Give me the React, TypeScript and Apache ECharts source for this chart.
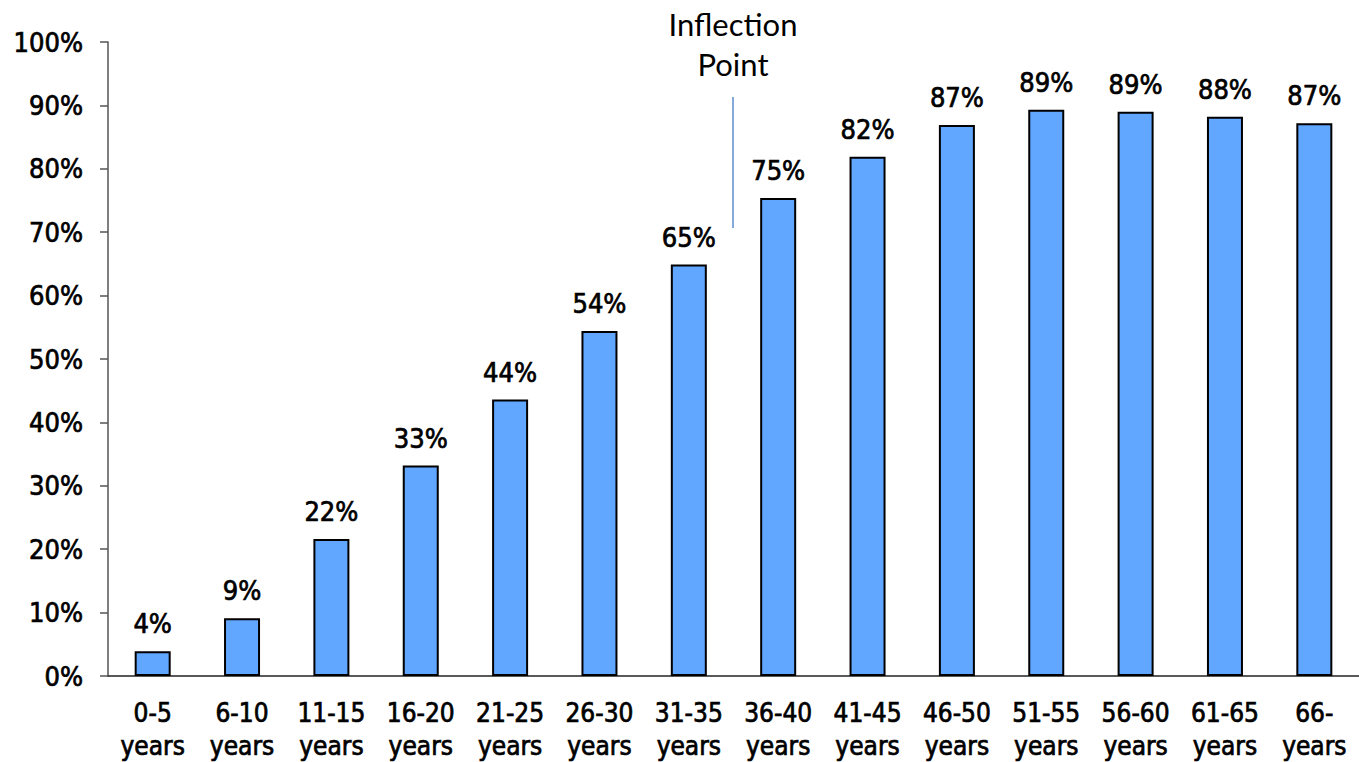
import React, { useEffect, useRef } from "react";
import * as echarts from "echarts";

const categories = [
  "0-5\nyears", "6-10\nyears", "11-15\nyears", "16-20\nyears", "21-25\nyears",
  "26-30\nyears", "31-35\nyears", "36-40\nyears", "41-45\nyears", "46-50\nyears",
  "51-55\nyears", "56-60\nyears", "61-65\nyears", "66-\nyears",
];
const values = [3.9, 9.1, 21.6, 33.2, 43.6, 54.4, 64.9, 75.4, 81.9, 86.9, 89.3, 89.0, 88.2, 87.2];
const labels = ["4%", "9%", "22%", "33%", "44%", "54%", "65%", "75%", "82%", "87%", "89%", "89%", "88%", "87%"];
const annotation = "Inflection\nPoint";

const FONT = "'DejaVu Sans Condensed', 'DejaVu Sans', sans-serif";
const thick = { textBorderColor: "#000", textBorderWidth: 0.7 };

export default function App() {
  const ref = useRef<HTMLDivElement>(null);
  useEffect(() => {
    document.body.style.margin = "0";
    const chart = echarts.init(ref.current!, undefined, { renderer: "svg" });
    chart.setOption({
      animation: false,
      grid: { left: 108, right: -9, top: 42, bottom: 85, containLabel: false },
      xAxis: {
        type: "category",
        data: categories,
        axisLine: { lineStyle: { color: "#222", width: 1.5 } },
        axisTick: { length: 7, lineStyle: { color: "#666", width: 1.5 } },
        axisLabel: {
          color: "#000", fontFamily: FONT, fontSize: 26, lineHeight: 33, margin: 20, interval: 0, ...thick,
        },
      },
      yAxis: {
        type: "value",
        min: 0,
        max: 100,
        interval: 10,
        splitLine: { show: false },
        axisLine: { show: true, lineStyle: { color: "#555", width: 1.5 } },
        axisTick: { show: true, length: 8, lineStyle: { color: "#555", width: 1.5 } },
        axisLabel: {
          color: "#000", fontFamily: FONT, fontSize: 27, margin: 25, ...thick,
          formatter: (v: number) => `${v}%`,
        },
      },
      series: [
        {
          type: "bar",
          data: values,
          barWidth: 36,
          itemStyle: { color: "#61A6FF", borderColor: "#000", borderWidth: 2 },
          label: {
            show: true,
            position: "top",
            distance: 14,
            color: "#000",
            fontFamily: FONT,
            fontSize: 27,
            ...thick,
            formatter: (p: any) => labels[p.dataIndex],
          },
        },
      ],
      graphic: [
        {
          type: "text",
          x: 733,
          y: 4,
          style: {
            text: annotation,
            font: "31px Lato, 'Open Sans', sans-serif",
            fill: "#000",
            textAlign: "center",
            lineHeight: 40,
          },
        },
        {
          type: "line",
          shape: { x1: 733, y1: 97, x2: 733, y2: 228 },
          style: { stroke: "#5B8ED0", lineWidth: 1.5 },
        },
      ],
    });
    return () => chart.dispose();
  }, []);
  return <div ref={ref} style={{ width: 1359, height: 762 }} />;
}
